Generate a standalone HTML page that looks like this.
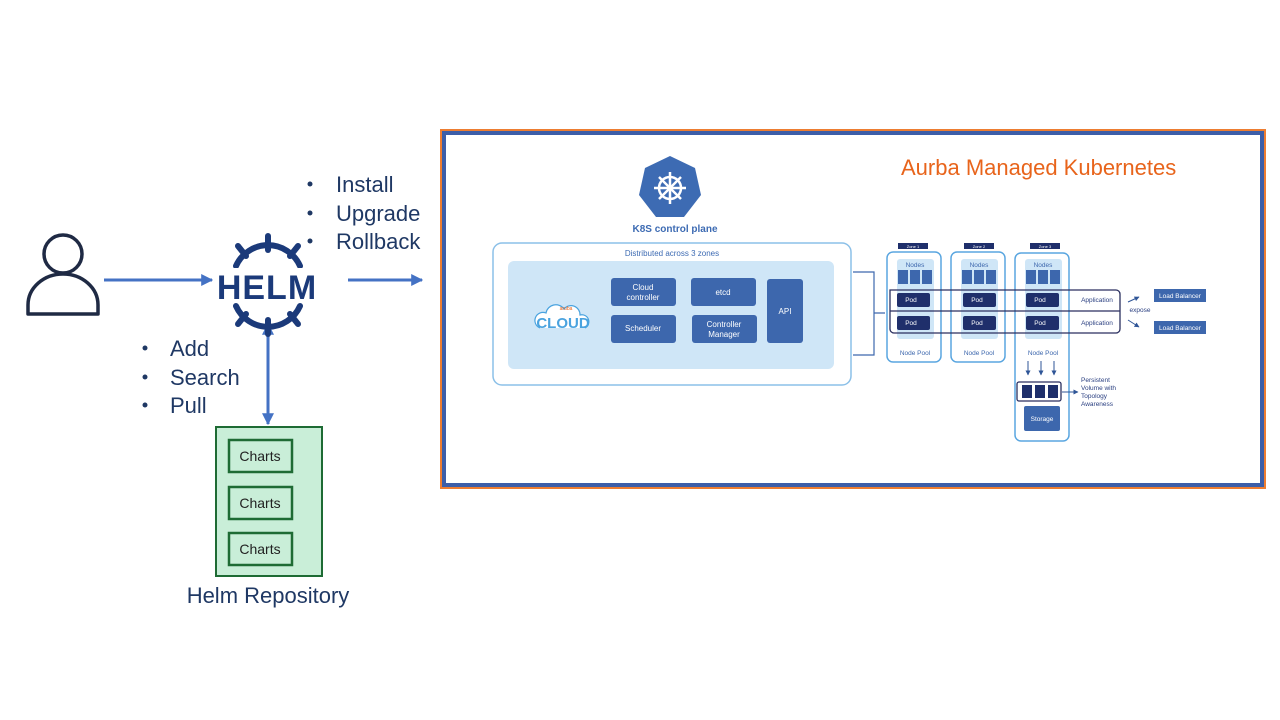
<!DOCTYPE html>
<html><head><meta charset="utf-8"><style>
body{margin:0;background:#fff;}
svg{display:block;}
text{font-family:"Liberation Sans",sans-serif;}
</style></head><body>
<svg width="1280" height="720" viewBox="0 0 1280 720" xmlns="http://www.w3.org/2000/svg">
<defs>
<marker id="ah" viewBox="0 0 10 10" refX="9" refY="5" markerWidth="4" markerHeight="4" orient="auto-start-reverse"><path d="M0,0 L10,5 L0,10 z" fill="#4472c4"/></marker>
<marker id="sa" viewBox="0 0 10 10" refX="9" refY="5" markerWidth="5" markerHeight="5" orient="auto"><path d="M0,0 L10,5 L0,10 z" fill="#2f5597"/></marker>
</defs>
<!-- person -->
<circle cx="63" cy="254" r="19" fill="none" stroke="#1f2a44" stroke-width="3.5"/>
<path d="M28,314 L28,305 A35,31 0 0 1 98,305 L98,314 Z" fill="none" stroke="#1f2a44" stroke-width="3.5" stroke-linejoin="round"/>
<!-- arrows -->
<line x1="104" y1="280" x2="212" y2="280" stroke="#4472c4" stroke-width="3" marker-end="url(#ah)"/>
<line x1="348" y1="280" x2="422" y2="280" stroke="#4472c4" stroke-width="3" marker-end="url(#ah)"/>
<line x1="268" y1="324" x2="268" y2="424" stroke="#4472c4" stroke-width="3" marker-end="url(#ah)" marker-start="url(#ah)"/>
<!-- helm -->
<g stroke="#1b3a7a" fill="none" stroke-linecap="round">
<path d="M236,266 A35,35 0 0 1 300,266" stroke-width="6"/>
<path d="M236,306 A35,35 0 0 0 300,306" stroke-width="6"/>
<g stroke-width="6"><line x1="268" y1="250" x2="268" y2="236"/><line x1="246" y1="256" x2="238" y2="246"/><line x1="290" y1="256" x2="298" y2="246"/>
<line x1="268" y1="320" x2="268" y2="334"/><line x1="246" y1="314" x2="238" y2="324"/><line x1="290" y1="314" x2="298" y2="324"/></g>
</g>
<rect x="220" y="268" width="96" height="34" fill="#fff"/>
<text x="267" y="299" font-size="34" font-weight="bold" fill="#1b3a7a" text-anchor="middle" letter-spacing="1">HELM</text>
<!-- bullets -->
<g font-size="22" fill="#1f3864">
<circle cx="310" cy="184" r="2.5" fill="#1f3864"/><text x="336" y="192">Install</text>
<circle cx="310" cy="213" r="2.5" fill="#1f3864"/><text x="336" y="221">Upgrade</text>
<circle cx="310" cy="241" r="2.5" fill="#1f3864"/><text x="336" y="249">Rollback</text>
<circle cx="145" cy="348" r="2.5" fill="#1f3864"/><text x="170" y="356">Add</text>
<circle cx="145" cy="377" r="2.5" fill="#1f3864"/><text x="170" y="385">Search</text>
<circle cx="145" cy="405" r="2.5" fill="#1f3864"/><text x="170" y="413">Pull</text>
<text x="268" y="603" text-anchor="middle">Helm Repository</text>
</g>
<!-- repo -->
<rect x="216" y="427" width="106" height="149" fill="#c9eed8" stroke="#1e6b34" stroke-width="2"/>
<g fill="#c9eed8" stroke="#1e6b34" stroke-width="2.5">
<rect x="229" y="440" width="63" height="32"/><rect x="229" y="487" width="63" height="32"/><rect x="229" y="533" width="63" height="32"/></g>
<g font-size="14" fill="#222" text-anchor="middle"><text x="260" y="461">Charts</text><text x="260" y="508">Charts</text><text x="260" y="554">Charts</text></g>
<!-- frame -->
<rect x="441" y="130" width="824" height="358" fill="#fff" stroke="#ed7d31" stroke-width="2"/>
<rect x="444" y="133" width="818" height="352" fill="none" stroke="#3c5ea8" stroke-width="4"/>
<text x="901" y="175" font-size="22" fill="#e8641b">Aurba Managed Kubernetes</text>
<!-- k8s -->
<polygon points="670,156 695,168 701,195 684,217 656,217 639,195 645,168" fill="#3d6bb3"/>
<g stroke="#fff" stroke-width="2.5" fill="none"><circle cx="670" cy="188" r="11"/>
<line x1="670" y1="172" x2="670" y2="204"/><line x1="654" y1="188" x2="686" y2="188"/><line x1="659" y1="177" x2="681" y2="199"/><line x1="681" y1="177" x2="659" y2="199"/></g>
<text x="675" y="232" font-size="10" font-weight="bold" fill="#3d6bb3" text-anchor="middle">K8S control plane</text>
<rect x="493" y="243" width="358" height="142" rx="9" fill="#fff" stroke="#8cc0e8" stroke-width="1.5"/>
<text x="672" y="256" font-size="8" fill="#3d6bb3" text-anchor="middle">Distributed across 3 zones</text>
<rect x="508" y="261" width="326" height="108" rx="6" fill="#cfe6f7"/>
<g fill="#3d67ad"><rect x="611" y="278" width="65" height="28" rx="3"/><rect x="691" y="278" width="65" height="28" rx="3"/>
<rect x="611" y="315" width="65" height="28" rx="3"/><rect x="692" y="315" width="65" height="28" rx="3"/><rect x="767" y="279" width="36" height="64" rx="3"/></g>
<g font-size="8" fill="#fff" text-anchor="middle"><text x="643" y="290">Cloud</text><text x="643" y="300">controller</text><text x="723" y="295">etcd</text>
<text x="643" y="331">Scheduler</text><text x="724" y="327">Controller</text><text x="724" y="337">Manager</text><text x="785" y="314">API</text></g>
<path d="M540,328 a8,8 0 0 1 6,-15 a10,10 0 0 1 18,-4 a9,9 0 0 1 16,6 a7,7 0 0 1 5,13" fill="#fff" stroke="#4aa3df" stroke-width="1.2"/>
<text x="563" y="328" font-size="15" fill="#4aa3df" text-anchor="middle" font-weight="bold">CLOUD</text>
<text x="566" y="310" font-size="5" fill="#e8641b" text-anchor="middle">aruba</text>
<path d="M853,272 H874 V355 H853 M874,313 H885" fill="none" stroke="#3d67ad" stroke-width="1.2"/>
<!-- zones -->
<g fill="#fff" stroke="#5aa6e0" stroke-width="1.5"><rect x="887" y="252" width="54" height="110" rx="6"/><rect x="951" y="252" width="54" height="110" rx="6"/><rect x="1015" y="253" width="54" height="188" rx="6"/></g>
<g fill="#cfe6f7"><rect x="897" y="259" width="37" height="80" rx="3"/><rect x="961" y="259" width="37" height="80" rx="3"/><rect x="1025" y="259" width="37" height="80" rx="3"/></g>
<g fill="#1f2f6b"><rect x="898" y="243" width="30" height="6"/><rect x="964" y="243" width="30" height="6"/><rect x="1030" y="243" width="30" height="6"/></g>
<g font-size="4" fill="#fff" text-anchor="middle"><text x="913" y="248">Zone 1</text><text x="979" y="248">Zone 2</text><text x="1045" y="248">Zone 3</text></g>
<g font-size="6.5" fill="#3d67ad" text-anchor="middle"><text x="915" y="267">Nodes</text><text x="979" y="267">Nodes</text><text x="1043" y="267">Nodes</text>
<text x="915" y="355">Node Pool</text><text x="979" y="355">Node Pool</text><text x="1043" y="355">Node Pool</text></g>
<g fill="#3d67ad">
<rect x="898" y="270" width="10" height="14"/><rect x="910" y="270" width="10" height="14"/><rect x="922" y="270" width="10" height="14"/>
<rect x="962" y="270" width="10" height="14"/><rect x="974" y="270" width="10" height="14"/><rect x="986" y="270" width="10" height="14"/>
<rect x="1026" y="270" width="10" height="14"/><rect x="1038" y="270" width="10" height="14"/><rect x="1050" y="270" width="10" height="14"/></g>
<g fill="#1f2f6b"><rect x="897" y="293" width="33" height="14" rx="2"/><rect x="963" y="293" width="33" height="14" rx="2"/><rect x="1026" y="293" width="33" height="14" rx="2"/>
<rect x="897" y="316" width="33" height="14" rx="2"/><rect x="963" y="316" width="33" height="14" rx="2"/><rect x="1026" y="316" width="33" height="14" rx="2"/></g>
<g font-size="6.5" fill="#fff" text-anchor="middle"><text x="911" y="302">Pod</text><text x="977" y="302">Pod</text><text x="1040" y="302">Pod</text>
<text x="911" y="325">Pod</text><text x="977" y="325">Pod</text><text x="1040" y="325">Pod</text></g>
<path d="M890,290 H1116 a4,4 0 0 1 4,4 V329 a4,4 0 0 1 -4,4 H894 a4,4 0 0 1 -4,-4 Z M890,311 H1120" fill="none" stroke="#2a2f5f" stroke-width="1.3"/>
<g font-size="6.5" fill="#2a3f80" text-anchor="middle"><text x="1097" y="302">Application</text><text x="1097" y="325">Application</text><text x="1140" y="312">expose</text></g>
<line x1="1128" y1="302" x2="1139" y2="297" stroke="#2f5597" stroke-width="1" marker-end="url(#sa)"/>
<line x1="1128" y1="320" x2="1139" y2="327" stroke="#2f5597" stroke-width="1" marker-end="url(#sa)"/>
<g fill="#3d67ad"><rect x="1154" y="289" width="52" height="13"/><rect x="1154" y="321" width="52" height="13"/></g>
<g font-size="6.5" fill="#fff" text-anchor="middle"><text x="1180" y="298">Load Balancer</text><text x="1180" y="330">Load Balancer</text></g>
<g stroke="#2f5597" stroke-width="1"><line x1="1028" y1="361" x2="1028" y2="375" marker-end="url(#sa)"/><line x1="1041" y1="361" x2="1041" y2="375" marker-end="url(#sa)"/><line x1="1054" y1="361" x2="1054" y2="375" marker-end="url(#sa)"/>
<line x1="1062" y1="392" x2="1078" y2="392" marker-end="url(#sa)"/></g>
<rect x="1017" y="382" width="44" height="19" rx="2" fill="#fff" stroke="#2a2f5f" stroke-width="1.3"/>
<g fill="#1f2f6b"><rect x="1022" y="385" width="10" height="13"/><rect x="1035" y="385" width="10" height="13"/><rect x="1048" y="385" width="10" height="13"/></g>
<rect x="1024" y="406" width="36" height="25" rx="2" fill="#3d67ad"/>
<text x="1042" y="421" font-size="6.5" fill="#fff" text-anchor="middle">Storage</text>
<g font-size="6.5" fill="#2a3f80"><text x="1081" y="382">Persistent</text><text x="1081" y="390">Volume with</text><text x="1081" y="398">Topology</text><text x="1081" y="406">Awareness</text></g>
</svg>
</body></html>
